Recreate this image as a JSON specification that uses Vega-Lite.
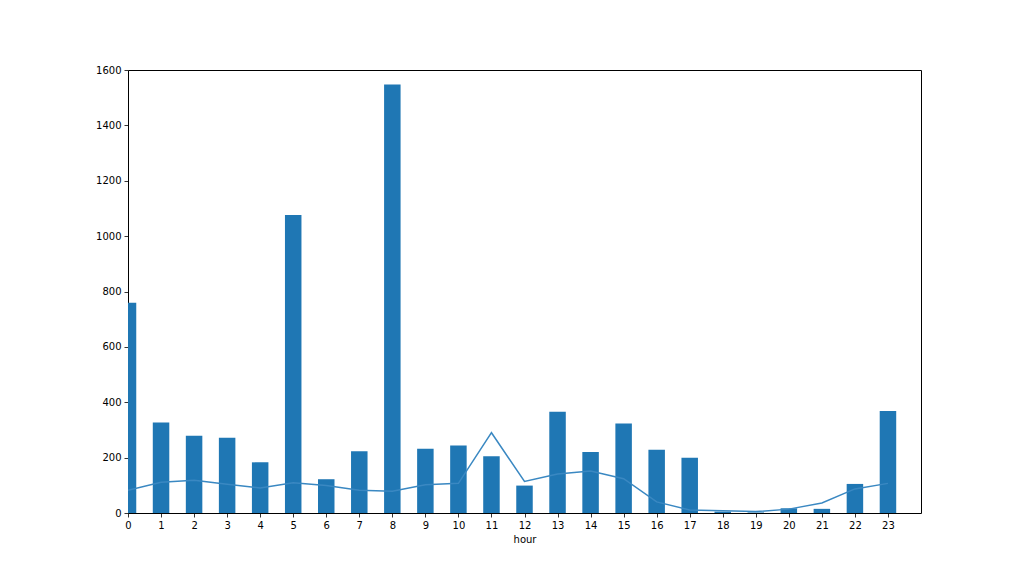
{
  "$schema": "https://vega.github.io/schema/vega-lite/v6.json",
  "width": 793,
  "height": 443,
  "autosize": "none",
  "padding": {"left": 128, "top": 70, "right": 103, "bottom": 63},
  "background": "white",
  "config": {
    "view": {"stroke": "#000000", "strokeWidth": 1},
    "font": "DejaVu Sans",
    "axis": {
      "grid": false,
      "domain": false,
      "tickColor": "#000000",
      "tickSize": 4,
      "tickWidth": 0.8,
      "labelFont": "DejaVu Sans",
      "labelFontSize": 10,
      "labelColor": "#000000",
      "labelPadding": 3,
      "labelFlush": false,
      "labelOverlap": false,
      "titleFont": "DejaVu Sans",
      "titleFontSize": 10,
      "titleFontWeight": "normal",
      "titleColor": "#000000"
    }
  },
  "data": {
    "values": [
      {"hour": 0, "count": 759, "avg": 82},
      {"hour": 1, "count": 327, "avg": 111},
      {"hour": 2, "count": 279, "avg": 118},
      {"hour": 3, "count": 272, "avg": 104},
      {"hour": 4, "count": 183, "avg": 90},
      {"hour": 5, "count": 1076, "avg": 109},
      {"hour": 6, "count": 122, "avg": 99},
      {"hour": 7, "count": 223, "avg": 82},
      {"hour": 8, "count": 1548, "avg": 79},
      {"hour": 9, "count": 232, "avg": 102},
      {"hour": 10, "count": 244, "avg": 107},
      {"hour": 11, "count": 205, "avg": 290},
      {"hour": 12, "count": 99, "avg": 114},
      {"hour": 13, "count": 366, "avg": 141},
      {"hour": 14, "count": 220, "avg": 152},
      {"hour": 15, "count": 323, "avg": 124},
      {"hour": 16, "count": 228, "avg": 40},
      {"hour": 17, "count": 200, "avg": 11},
      {"hour": 18, "count": 5, "avg": 8},
      {"hour": 19, "count": 2, "avg": 5},
      {"hour": 20, "count": 17, "avg": 14},
      {"hour": 21, "count": 15, "avg": 36},
      {"hour": 22, "count": 105, "avg": 87},
      {"hour": 23, "count": 368, "avg": 107}
    ]
  },
  "encoding": {
    "x": {
      "field": "hour",
      "type": "quantitative",
      "scale": {"domain": [0, 24], "nice": false, "zero": false, "padding": 0},
      "axis": {
        "title": "hour",
        "values": [0,1,2,3,4,5,6,7,8,9,10,11,12,13,14,15,16,17,18,19,20,21,22,23],
        "format": "d",
        "titlePadding": 4
      }
    }
  },
  "layer": [
    {
      "mark": {"type": "bar", "size": 16.5, "color": "#1f77b4", "clip": true},
      "encoding": {
        "y": {
          "field": "count",
          "type": "quantitative",
          "scale": {"domain": [0, 1600], "nice": false},
          "axis": {"title": null, "format": "d", "values": [0,200,400,600,800,1000,1200,1400,1600]}
        }
      }
    },
    {
      "mark": {"type": "line", "color": "#3a88c2", "strokeWidth": 1.5, "clip": true},
      "encoding": {
        "y": {"field": "avg", "type": "quantitative"}
      }
    }
  ]
}
